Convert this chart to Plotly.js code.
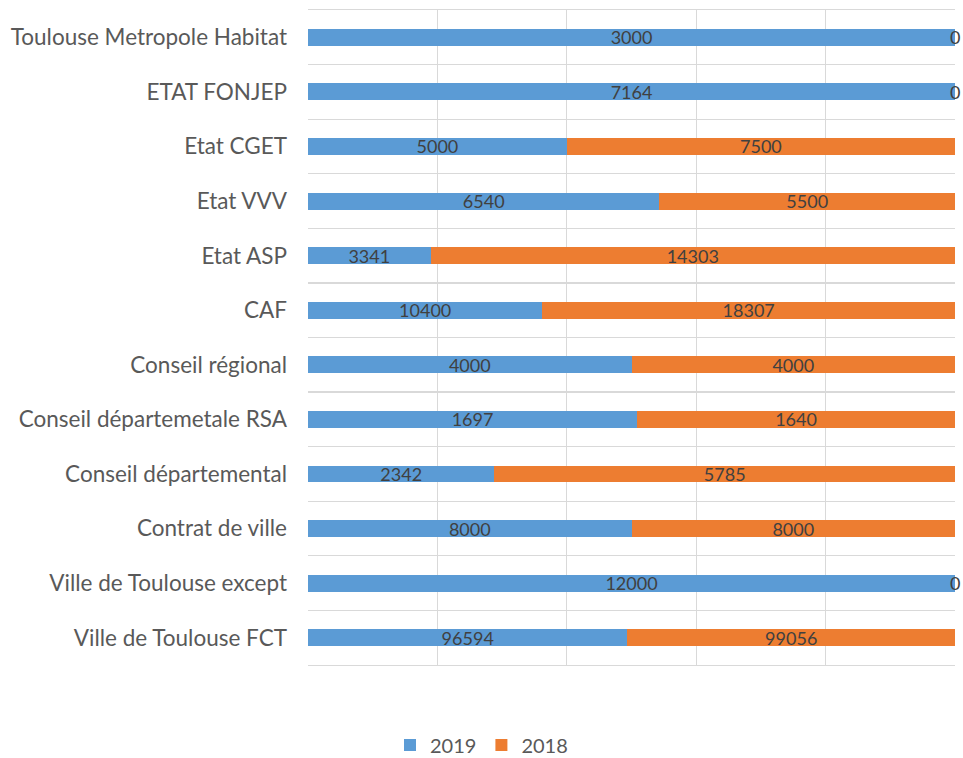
<!DOCTYPE html>
<html>
<head>
<meta charset="utf-8">
<script src="https://cdn.plot.ly/plotly-3.0.1.min.js"></script>
<style>
  html, body { margin: 0; padding: 0; background: #fff; }
  #chart { width: 963px; height: 758px; }
</style>
</head>
<body>
<div id="chart"></div>
<script>
const categories = [
  'Toulouse Metropole Habitat',
  'ETAT FONJEP',
  'Etat CGET',
  'Etat VVV',
  'Etat ASP',
  'CAF',
  'Conseil régional',
  'Conseil départemetale RSA',
  'Conseil départemental',
  'Contrat de ville',
  'Ville de Toulouse except',
  'Ville de Toulouse FCT'
]
const values2019 = [3000, 7164, 5000, 6540, 3341, 10400, 4000, 1697, 2342, 8000, 12000, 96594]
const values2018 = [0, 0, 7500, 5500, 14303, 18307, 4000, 1640, 5785, 8000, 0, 99056]

const fontFamily = 'Lato, "Open Sans", sans-serif'
const labelFont = {family: fontFamily, size: 18, color: '#404040'}

function series (name, values, color) {
  return {
    type: 'bar',
    orientation: 'h',
    name,
    y: categories,
    x: values,
    width: 0.31,
    marker: {color},
    text: values.map(String),
    texttemplate: '%{text}',
    // zero-width segments can't hold text, those get an annotation below
    textposition: values.map((v) => v === 0 ? 'none' : 'inside'),
    insidetextanchor: 'middle',
    constraintext: 'none',
    textfont: labelFont,
    insidetextfont: labelFont,
    hoverinfo: 'name+x'
  }
}

const traces = [
  series('2019', values2019, '#5b9bd5'),
  series('2018', values2018, '#ed7d31')
]

// labels for the empty 2018 segments, sitting at the end of the 100% stack
const zeroLabels = categories
  .map((cat, i) => ({cat, v: values2018[i]}))
  .filter((d) => d.v === 0)
  .map((d) => ({
    x: 1,
    y: d.cat,
    xref: 'x',
    yref: 'y',
    text: String(d.v),
    showarrow: false,
    xanchor: 'center',
    yanchor: 'middle',
    font: labelFont
  }))

const layout = {
  barmode: 'stack',
  barnorm: 'fraction',
  width: 963,
  height: 758,
  margin: {l: 308, r: 8, t: 10, b: 93},
  paper_bgcolor: '#fff',
  plot_bgcolor: '#fff',
  font: {family: fontFamily, color: '#595959'},
  xaxis: {
    range: [0, 1],
    dtick: 0.2,
    showticklabels: false,
    showgrid: true,
    gridcolor: '#d9d9d9',
    gridwidth: 1.3,
    zeroline: false,
    showline: true,
    mirror: true,
    linecolor: '#d9d9d9',
    linewidth: 1.3,
    fixedrange: true
  },
  yaxis: {
    type: 'category',
    autorange: 'reversed',
    tickson: 'boundaries',
    ticks: '',
    showgrid: true,
    gridcolor: '#d9d9d9',
    gridwidth: 1.3,
    showline: false,
    ticklabelstandoff: 20,
    tickfont: {family: fontFamily, size: 22.5, color: '#595959'},
    fixedrange: true
  },
  annotations: zeroLabels,
  showlegend: true,
  legend: {
    orientation: 'h',
    xref: 'container',
    x: 0.5,
    xanchor: 'center',
    yref: 'container',
    y: 0.017,
    yanchor: 'middle',
    font: {family: fontFamily, size: 20, color: '#595959'},
    traceorder: 'normal',
    itemwidth: 30
  }
}

Plotly.newPlot('chart', traces, layout, {displayModeBar: false, staticPlot: true})
</script>
</body>
</html>
